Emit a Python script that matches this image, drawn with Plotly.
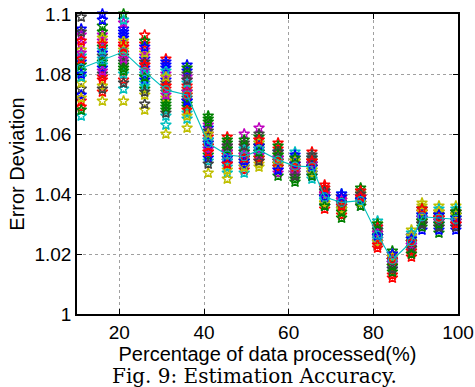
import plotly.graph_objects as go

# x positions (percentage of data processed)
x_pct = [11, 16, 21, 26, 31, 36, 41, 45.5, 49.5, 53, 57.5, 61.5, 65.5, 68.5,
         72.5, 77, 81, 84.5, 89, 91.5, 95.5, 99.5]

# per-column error deviation of each run
err_11 = [1.084, 1.079, 1.071, 1.066, 1.090, 1.088, 1.075, 1.095, 1.081, 1.069, 1.086, 1.093, 1.077, 1.099, 1.073, 1.083, 1.091, 1.079, 1.087, 1.072, 1.094, 1.080, 1.068, 1.085]
err_16 = [1.100, 1.089, 1.074, 1.085, 1.093, 1.071, 1.080, 1.087, 1.096, 1.078, 1.083, 1.091, 1.076, 1.086, 1.082, 1.094, 1.079, 1.088, 1.081, 1.092, 1.075, 1.098, 1.084, 1.090]
err_21 = [1.092, 1.100, 1.078, 1.075, 1.089, 1.071, 1.086, 1.095, 1.083, 1.090, 1.080, 1.097, 1.088, 1.084, 1.093, 1.081, 1.087, 1.098, 1.085, 1.091, 1.077, 1.094, 1.082, 1.089]
err_26 = [1.085, 1.079, 1.093, 1.077, 1.088, 1.068, 1.070, 1.082, 1.075, 1.090, 1.080, 1.086, 1.073, 1.084, 1.078, 1.091, 1.083, 1.076, 1.081, 1.087, 1.074, 1.089, 1.079, 1.083]
err_31 = [1.078, 1.071, 1.085, 1.063, 1.080, 1.060, 1.074, 1.082, 1.068, 1.076, 1.066, 1.079, 1.072, 1.077, 1.083, 1.070, 1.075, 1.081, 1.073, 1.079, 1.067, 1.084, 1.069, 1.076]
err_36 = [1.083, 1.069, 1.076, 1.065, 1.079, 1.062, 1.072, 1.081, 1.070, 1.075, 1.067, 1.078, 1.073, 1.080, 1.071, 1.074, 1.068, 1.077, 1.074, 1.066, 1.078, 1.071, 1.082, 1.073]
err_41 = [1.058, 1.066, 1.054, 1.051, 1.060, 1.047, 1.056, 1.062, 1.053, 1.059, 1.055, 1.063, 1.057, 1.061, 1.052, 1.064, 1.056, 1.058, 1.055, 1.060, 1.050, 1.057, 1.065, 1.054]
err_45 = [1.052, 1.055, 1.059, 1.047, 1.050, 1.045, 1.054, 1.051, 1.057, 1.053, 1.049, 1.056, 1.052, 1.054, 1.050, 1.058, 1.053, 1.051, 1.054, 1.048, 1.056, 1.052, 1.055, 1.050]
err_49 = [1.051, 1.053, 1.048, 1.055, 1.060, 1.050, 1.054, 1.049, 1.052, 1.056, 1.047, 1.053, 1.051, 1.057, 1.050, 1.054, 1.052, 1.055, 1.053, 1.049, 1.056, 1.051, 1.058, 1.052]
err_53 = [1.055, 1.052, 1.058, 1.054, 1.062, 1.050, 1.056, 1.053, 1.059, 1.051, 1.057, 1.055, 1.049, 1.060, 1.054, 1.056, 1.052, 1.055, 1.053, 1.057, 1.051, 1.056, 1.054, 1.058]
err_57 = [1.051, 1.049, 1.057, 1.053, 1.047, 1.052, 1.050, 1.054, 1.046, 1.055, 1.051, 1.048, 1.053, 1.050, 1.052, 1.056, 1.049, 1.051, 1.052, 1.050, 1.054, 1.048, 1.053, 1.051]
err_61 = [1.049, 1.047, 1.051, 1.054, 1.048, 1.050, 1.046, 1.052, 1.044, 1.049, 1.051, 1.047, 1.050, 1.048, 1.053, 1.045, 1.050, 1.049, 1.048, 1.051, 1.046, 1.050, 1.052, 1.049]
err_65 = [1.049, 1.051, 1.054, 1.047, 1.050, 1.048, 1.052, 1.046, 1.049, 1.051, 1.045, 1.050, 1.048, 1.053, 1.047, 1.050, 1.049, 1.052, 1.050, 1.047, 1.052, 1.049, 1.046, 1.051]
err_68 = [1.039, 1.041, 1.035, 1.038, 1.040, 1.037, 1.042, 1.036, 1.039, 1.043, 1.038, 1.040, 1.037, 1.041, 1.039, 1.036, 1.040, 1.038, 1.040, 1.037, 1.041, 1.039, 1.036, 1.042]
err_72 = [1.037, 1.039, 1.033, 1.040, 1.036, 1.038, 1.035, 1.037, 1.032, 1.039, 1.036, 1.038, 1.034, 1.037, 1.040, 1.035, 1.038, 1.036, 1.038, 1.035, 1.037, 1.039, 1.034, 1.036]
err_77 = [1.038, 1.042, 1.036, 1.039, 1.037, 1.040, 1.038, 1.037, 1.041, 1.039, 1.036, 1.038, 1.040, 1.037, 1.039, 1.038, 1.041, 1.037, 1.039, 1.037, 1.040, 1.038, 1.036, 1.039]
err_81 = [1.026, 1.028, 1.022, 1.031, 1.025, 1.027, 1.024, 1.029, 1.026, 1.023, 1.028, 1.025, 1.030, 1.027, 1.024, 1.026, 1.029, 1.025, 1.027, 1.024, 1.028, 1.026, 1.030, 1.023]
err_84 = [1.018, 1.021, 1.012, 1.017, 1.019, 1.016, 1.020, 1.015, 1.018, 1.013, 1.019, 1.017, 1.020, 1.016, 1.018, 1.014, 1.019, 1.017, 1.017, 1.019, 1.015, 1.020, 1.016, 1.018]
err_89 = [1.024, 1.022, 1.019, 1.025, 1.023, 1.028, 1.021, 1.026, 1.024, 1.020, 1.027, 1.023, 1.025, 1.022, 1.026, 1.024, 1.021, 1.025, 1.023, 1.026, 1.022, 1.025, 1.020, 1.024]
err_91 = [1.028, 1.031, 1.034, 1.033, 1.035, 1.037, 1.030, 1.032, 1.029, 1.034, 1.031, 1.033, 1.036, 1.030, 1.032, 1.035, 1.031, 1.033, 1.032, 1.034, 1.030, 1.033, 1.031, 1.035]
err_95 = [1.032, 1.027, 1.033, 1.030, 1.034, 1.036, 1.031, 1.033, 1.029, 1.032, 1.035, 1.030, 1.034, 1.031, 1.028, 1.033, 1.032, 1.030, 1.031, 1.034, 1.029, 1.033, 1.030, 1.032]
err_99 = [1.028, 1.031, 1.034, 1.030, 1.033, 1.036, 1.032, 1.029, 1.033, 1.031, 1.035, 1.030, 1.032, 1.034, 1.031, 1.033, 1.030, 1.032, 1.031, 1.033, 1.029, 1.032, 1.034, 1.030]

# mean error deviation (cyan line with circles)
mean_err = [1.0819, 1.0847, 1.0874, 1.0808, 1.0747, 1.0730, 1.0569, 1.0530, 1.0524, 1.0547,
            1.0513, 1.0493, 1.0491, 1.0390, 1.0372, 1.0378, 1.0263, 1.0180, 1.0241, 1.0324,
            1.0319, 1.0316]

y_ticks = [1, 1.02, 1.04, 1.06, 1.08, 1.1]
y_tick_labels = ["1", "1.02", "1.04", "1.06", "1.08", "1.1"]
x_ticks = [20, 40, 60, 80, 100]

columns = [err_11, err_16, err_21, err_26, err_31, err_36, err_41, err_45, err_49, err_53,
           err_57, err_61, err_65, err_68, err_72, err_77, err_81, err_84, err_89, err_91,
           err_95, err_99]

matlab_colors = ["rgb(0,0,255)", "rgb(0,128,0)", "rgb(255,0,0)", "rgb(0,191,191)",
                 "rgb(191,0,191)", "rgb(191,191,0)", "rgb(64,64,64)"]

fig = go.Figure()
n_runs = len(err_11)
for k in range(n_runs):
    c = matlab_colors[k % len(matlab_colors)]
    fig.add_trace(go.Scatter(
        x=x_pct, y=[col[k] for col in columns], mode="markers",
        marker=dict(symbol="star-open", size=8, color=c, line=dict(color=c, width=1.4)),
        showlegend=False, cliponaxis=False, hoverinfo="skip"))

fig.add_trace(go.Scatter(
    x=x_pct, y=mean_err, mode="lines+markers",
    line=dict(color="rgb(0,191,191)", width=1.1),
    marker=dict(symbol="circle-open", size=8, color="rgb(0,191,191)", line=dict(width=1.1)),
    showlegend=False, cliponaxis=False))

font_sans = "Liberation Sans, Arial, sans-serif"
fig.update_layout(
    width=475, height=387,
    margin=dict(l=77, r=17, t=14, b=73),
    paper_bgcolor="white", plot_bgcolor="white",
    font=dict(family=font_sans, size=19, color="black"),
    xaxis=dict(range=[10, 100], tickvals=x_ticks, ticks="inside", ticklen=5,
               tickcolor="black", showline=True, linecolor="black", linewidth=1.5,
               mirror="ticks", showgrid=True, gridcolor="rgb(160,160,160)",
               griddash="dot", gridwidth=1, zeroline=False, automargin=False,
               title=dict(text="Percentage of data processed(%)", standoff=0,
                          font=dict(size=20))),
    yaxis=dict(range=[1, 1.1], tickvals=y_ticks, ticktext=y_tick_labels, ticks="inside",
               ticklen=5, tickcolor="black", showline=True, linecolor="black",
               linewidth=1.5, mirror="ticks", showgrid=True,
               gridcolor="rgb(160,160,160)", griddash="dot", gridwidth=1,
               zeroline=False, automargin=False,
               title=dict(text="Error Deviation", standoff=4, font=dict(size=20))),
    annotations=[dict(text="Fig. 9: Estimation Accuracy.", xref="paper", yref="paper",
                      x=0.467, y=-0.205, xanchor="center", yanchor="middle",
                      showarrow=False,
                      font=dict(family="DejaVu Serif, serif", size=20, color="black"))],
)

fig.write_html("out.html", config={"displayModeBar": False},
               post_script="document.body.style.margin='0px';"
                           "document.body.style.overflow='hidden';")
